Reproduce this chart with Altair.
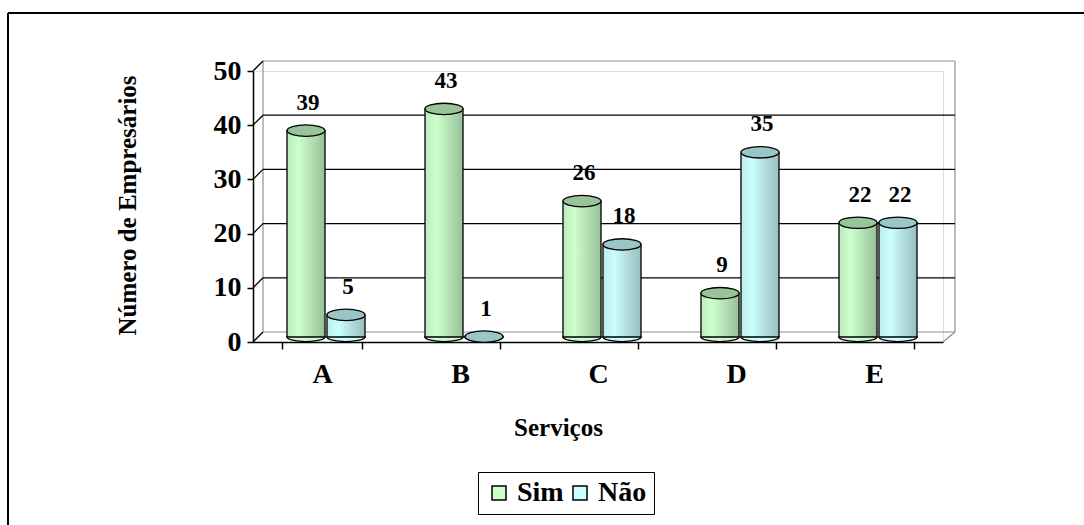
import altair as alt
import pandas as pd

# Survey answers per service
categories = ["A", "B", "C", "D", "E"]
sim_values = [39, 43, 26, 9, 22]
nao_values = [5, 1, 18, 35, 22]
series_names = ["Sim", "Não"]
y_ticks = [0, 10, 20, 30, 40, 50]
grid_values = [10, 20, 30, 40]

FONT = "Liberation Serif"
W, H = 690, 271
DEPTH = 10          # 3D depth offset of the back wall, px
GRAY = "#8f8f8f"

x_scale = alt.Scale(domain=categories, paddingInner=58 / 138, paddingOuter=29 / 138)
y_scale = alt.Scale(domain=[0, 50], nice=False)

x_axis = alt.Axis(
    title="Serviços", labelAngle=0, tickBand="extent", tickSize=7,
    labelFontSize=28, labelFont=FONT, labelFontWeight="bold", labelColor="black",
    labelBaseline="middle", labelPadding=25,
    titleFont=FONT, titleFontSize=25, titleFontWeight="bold", titleColor="black",
    titleX=305, titleY=85, titleBaseline="middle", titleAlign="center",
    domainColor="black", tickColor="black", domainWidth=1.5, tickWidth=1.5,
)
y_axis = alt.Axis(
    title="Número de Empresários", values=y_ticks, grid=False, tickSize=6,
    labelFontSize=28, labelFont=FONT, labelFontWeight="bold", labelColor="black",
    labelPadding=6,
    titleFont=FONT, titleFontSize=25, titleFontWeight="bold", titleColor="black",
    titleX=-126, titleY=134, titleBaseline="middle", titleAlign="center",
    domainColor="black", tickColor="black", domainWidth=1.5, tickWidth=1.5,
)

one = pd.DataFrame({"k": [0]})


def X():
    return alt.X("cat:N", scale=x_scale, axis=x_axis, title="Serviços")


def Y(field):
    return alt.Y(field, scale=y_scale, axis=y_axis, title="Número de Empresários")


def series_layers(name, values, stops, top_color, shift):
    df = pd.DataFrame({"cat": categories, "value": values, "serie": name, "k": 0})
    base = alt.Chart(df)
    grad = alt.Gradient(
        gradient="linear",
        stops=[alt.GradientStop(offset=o, color=c) for o, c in stops],
        x1=0, x2=1, y1=0, y2=0,
    )
    body = base.mark_bar(
        width=38, fill=grad, stroke="black", strokeWidth=1.3, xOffset=shift, y2Offset=-5
    ).encode(x=X(), y=Y("value:Q"), y2=alt.datum(0))
    bottom = base.mark_point(
        shape="M-1,-0.06 L-1,0 A1,0.24 0 0,0 1,0 L1,-0.06",
        size=38 * 38, filled=True, stroke="black", strokeWidth=1.3,
        opacity=1, xOffset=shift, yOffset=-5,
    ).encode(
        x=X(),
        y=Y("k:Q"),
        fill=alt.Fill(
            "serie:N",
            scale=alt.Scale(domain=series_names, range=["#CCFFCC", "#CCFFFF"]),
            legend=alt.Legend(
                title=None, orient="none", legendX=225, legendY=401,
                direction="horizontal", symbolType="square", symbolSize=196,
                symbolStrokeColor="black", symbolStrokeWidth=1.5,
                labelFont=FONT, labelFontSize=28, labelFontWeight="bold",
                labelColor="black", strokeColor="black", padding=7,
                columnPadding=2, labelOffset=4,
            ),
        ),
    )
    top = base.mark_point(
        shape="M-1,0 A1,0.3 0 1,1 1,0 A1,0.3 0 1,1 -1,0 Z",
        size=38 * 38, filled=True, fill=top_color, stroke="black",
        strokeWidth=1.3, opacity=1, xOffset=shift,
    ).encode(x=X(), y=Y("value:Q"))
    labels = base.mark_text(
        font=FONT, fontSize=23, fontWeight="bold", color="black",
        baseline="middle", dx=shift + 2, dy=-28,
    ).encode(x=X(), y=Y("value:Q"), text="value:Q")
    return [bottom, body, top, labels]


sim_layers = series_layers(
    "Sim", sim_values,
    [(0, "#BDEBBD"), (0.3, "#CCFFCC"), (0.65, "#B4DEB4"), (1, "#96C096")],
    "#99C499", -20 + 4,
)
nao_layers = series_layers(
    "Não", nao_values,
    [(0, "#BDEBEB"), (0.3, "#CCFFFF"), (0.65, "#B2DCDC"), (1, "#94C0C0")],
    "#99C6C6", 20 + 4,
)

# Back wall grid (offset for depth)
grid = alt.Chart(pd.DataFrame({"v": grid_values})).mark_rule(
    color="black", strokeWidth=1.3, yOffset=-DEPTH, y2Offset=-DEPTH
).encode(
    y=Y("v:Q"), y2="v:Q",
    x=alt.value(DEPTH), x2=alt.value(W + 12),
)
wall_top = alt.Chart(one).mark_rule(
    color=GRAY, strokeWidth=1.2, yOffset=-DEPTH, y2Offset=-DEPTH
).encode(y=alt.datum(50, scale=y_scale), y2=alt.datum(50), x=alt.value(DEPTH), x2=alt.value(W + 12))
floor_back = alt.Chart(one).mark_rule(
    color=GRAY, strokeWidth=1.2, yOffset=-DEPTH, y2Offset=-DEPTH
).encode(y=alt.datum(0, scale=y_scale), y2=alt.datum(0), x=alt.value(DEPTH), x2=alt.value(W + 12))
wall_left = alt.Chart(one).mark_rule(
    color=GRAY, strokeWidth=1.2, yOffset=-DEPTH, y2Offset=-DEPTH
).encode(y=alt.datum(0, scale=y_scale), y2=alt.datum(50), x=alt.value(DEPTH))
wall_right = alt.Chart(one).mark_rule(
    color=GRAY, strokeWidth=1.2, yOffset=-DEPTH, y2Offset=-DEPTH
).encode(y=alt.datum(0, scale=y_scale), y2=alt.datum(50), x=alt.value(W + 12))
floor_right = alt.Chart(one).mark_rule(
    color=GRAY, strokeWidth=1.2, y2Offset=-DEPTH
).encode(y=alt.datum(0, scale=y_scale), y2=alt.datum(0), x=alt.value(W), x2=alt.value(W + 12))

# Diagonal depth ticks from the value axis to the back wall
diag = alt.Chart(pd.DataFrame({"v": y_ticks})).mark_rule(
    color="black", strokeWidth=1.3, y2Offset=-DEPTH
).encode(y=Y("v:Q"), y2="v:Q", x=alt.value(0), x2=alt.value(DEPTH))

# Axes carrier layer
axes = alt.Chart(pd.DataFrame({"cat": categories, "v": [0] * 5})).mark_point(opacity=0).encode(
    x=X(), y=Y("v:Q"),
)

# Outer frame (top and left edges)
frame_top = alt.Chart(one).mark_rule(color="black", strokeWidth=2).encode(
    x=alt.value(-245), x2=alt.value(831), y=alt.value(-58)
)
frame_left = alt.Chart(one).mark_rule(color="black", strokeWidth=2).encode(
    x=alt.value(-245), y=alt.value(-58), y2=alt.value(454)
)

chart = alt.layer(
    frame_top, frame_left,
    wall_top, floor_back, wall_left, wall_right, floor_right, grid, diag,
    axes,
    *sim_layers, *nao_layers,
).properties(
    width=W, height=H,
    autosize=alt.AutoSizeParams(type="none"),
    padding={"left": 253, "top": 71, "right": 141, "bottom": 183},
).configure_view(stroke=None).configure(background="white")

chart.save("out.html", embed_options={"renderer": "svg", "actions": False})
